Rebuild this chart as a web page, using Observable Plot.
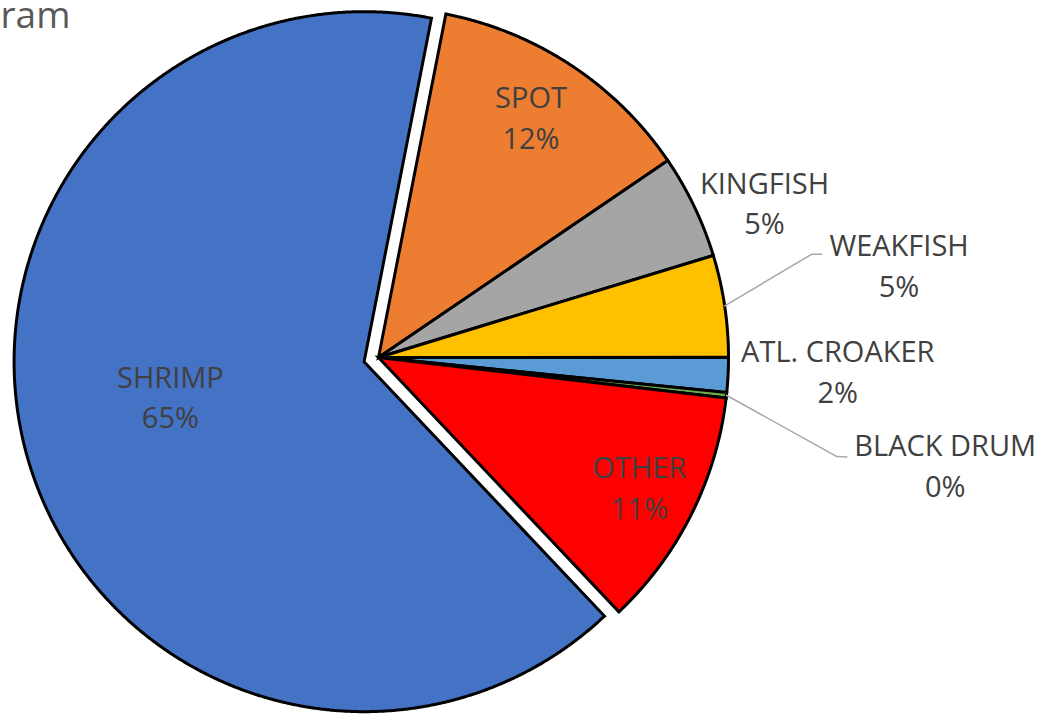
<!DOCTYPE html>
<html>
<head>
<meta charset="utf-8">
<script src="https://cdn.jsdelivr.net/npm/d3@7"></script>
<script src="https://cdn.jsdelivr.net/npm/@observablehq/plot@0.6"></script>
<style>
  html, body { margin: 0; padding: 0; background: #ffffff; }
  #chart svg { display: block; }
</style>
</head>
<body>
<div id="chart"></div>
<script>
// ---- data ----
const categories = ["SPOT", "KINGFISH", "WEAKFISH", "ATL. CROAKER", "BLACK DRUM", "OTHER", "SHRIMP"];
const shares = [12.4, 4.8, 4.7, 1.6, 0.25, 11.1, 65.1];
const percentLabels = ["12%", "5%", "5%", "2%", "0%", "11%", "65%"];
const sliceColors = ["#ED7D31", "#A5A5A5", "#FFC000", "#5B9BD5", "#70AD47", "#FF0000", "#4472C4"];
const titleText = ["ram"];

// ---- layout (polar, in units of the radius) ----
const W = 1055, H = 715;
const R = 350, cx = 378, cy = 357;          // pie frame
const startDeg = 11.1;                       // first slice starts here (clockwise from north)
const explodeBy = {"SHRIMP": 15 / 350};
// label placement: [radius factor, angle in degrees]
const labelPolar = {
  "SPOT": [0.811, 32.5],
  "KINGFISH": [1.187, 68.3],
  "WEAKFISH": [1.510, 80.05],
  "ATL. CROAKER": [1.313, 91.9],
  "BLACK DRUM": [1.649, 100.9],
  "OTHER": [0.834, 116.7],
  "SHRIMP": [0.563, 259.4]
};
// leader lines: elbow and end points [radius factor, angle]
const leaderPolar = {
  "WEAKFISH": [[1.272, 76.6], [1.300, 76.9]],
  "BLACK DRUM": [[1.340, 102.2], [1.368, 102.0]]
};

const rad = d => d * Math.PI / 180;
const total = d3.sum(shares);

// slices
const slices = [];
let acc = startDeg;
categories.forEach((name, i) => {
  const a0 = acc, a1 = acc + shares[i] / total * 360;
  acc = a1;
  const mid = (a0 + a1) / 2;
  const e = explodeBy[name] || 0;
  const ox = e * Math.sin(rad(mid)), oy = e * Math.cos(rad(mid));
  slices.push({name, a0, a1, mid, ox, oy, pct: percentLabels[i]});
});

const slicePoints = [];
for (const s of slices) {
  slicePoints.push({name: s.name, x: s.ox, y: s.oy});
  const n = Math.max(2, Math.ceil((s.a1 - s.a0) / 0.25));
  for (let k = 0; k <= n; k++) {
    const a = rad(s.a0 + (s.a1 - s.a0) * k / n);
    slicePoints.push({name: s.name, x: s.ox + Math.sin(a), y: s.oy + Math.cos(a)});
  }
}

const labels = slices.map(s => {
  const [r, deg] = labelPolar[s.name];
  return {name: s.name, text: `${s.name}\n${s.pct}`,
          x: s.ox + r * Math.sin(rad(deg)), y: s.oy + r * Math.cos(rad(deg))};
});

const leaders = [];
for (const s of slices) {
  if (!leaderPolar[s.name]) continue;
  leaders.push({name: s.name, x: Math.sin(rad(s.mid)), y: Math.cos(rad(s.mid))});
  for (const [r, deg] of leaderPolar[s.name]) {
    leaders.push({name: s.name, x: r * Math.sin(rad(deg)), y: r * Math.cos(rad(deg))});
  }
}

const font = "'Open Sans', 'Noto Sans', sans-serif";

const chart = Plot.plot({
  width: W,
  height: H,
  margin: 0,
  style: {background: "#ffffff", fontFamily: font},
  x: {domain: [-cx / R, (W - cx) / R], axis: null},
  y: {domain: [-(H - cy) / R, cy / R], axis: null},
  color: {domain: categories, range: sliceColors},
  marks: [
    Plot.line(slicePoints, {
      x: "x", y: "y", z: "name", fill: "name",
      stroke: "#000000", strokeWidth: 3,
      strokeLinejoin: "miter", strokeMiterlimit: 4,
      curve: "linear-closed"
    }),
    Plot.line(leaders, {
      x: "x", y: "y", z: "name",
      stroke: "#A6A6A6", strokeWidth: 1.5
    }),
    Plot.text(labels, {
      x: "x", y: "y", text: "text", dy: -3,
      fontSize: 29, lineHeight: 1.41, fill: "#404040",
      fontFamily: font, textAnchor: "middle", lineAnchor: "middle"
    }),
    Plot.text(titleText, {
      frameAnchor: "top-left", text: d => d,
      textAnchor: "start", lineAnchor: "top", dx: 0, dy: 1,
      fontSize: 37, fill: "#595959", fontFamily: font
    })
  ]
});

document.getElementById("chart").appendChild(chart);
</script>
</body>
</html>
